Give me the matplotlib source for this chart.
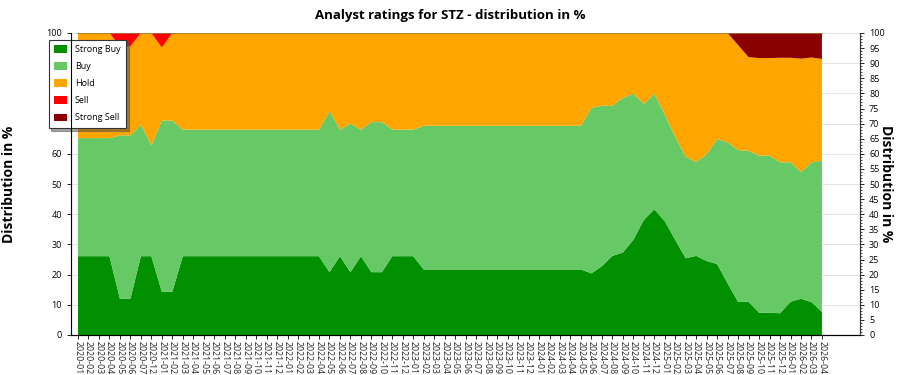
import matplotlib
matplotlib.use("Agg")
import matplotlib.pyplot as plt
from matplotlib.ticker import MultipleLocator
import numpy as np

plt.rcParams['font.family'] = ['Open Sans', 'DejaVu Sans']

months = (["2020-%02d" % m for m in [1, 2, 3, 4, 5, 6, 7, 12]] +
          ["%d-%02d" % (y, m) for y in (2021, 2022, 2023, 2024, 2025) for m in range(1, 13)] +
          ["2026-%02d" % m for m in range(1, 5)])

strong_buy = ([26.1] * 4 + [12.0] * 2 + [26.1] * 2 + [14.3] * 2 + [26.1] * 14 +
              [20.8, 26.1, 20.8, 26.1, 20.8, 20.8, 26.1, 26.1, 26.1] + [21.7] * 16 +
              [20.4, 22.8, 26.2, 27.3, 31.5, 38.1, 41.6, 37.7, 31.5, 25.4, 26.2, 24.5, 23.5,
               17.1, 11.0, 11.0, 7.4, 7.4, 7.2, 11.0, 12.0, 10.9, 7.7])
buy = ([39.1] * 4 + [54.1] * 2 + [43.5, 36.7] + [56.7] * 2 + [41.9] * 14 +
       [53.3, 41.9, 49.2, 41.9, 49.7, 49.7, 41.9, 41.9, 41.9] + [47.6] * 16 +
       [54.8, 53.1, 49.7, 51.2, 48.4, 38.4, 38.3, 35.3, 34.0, 33.6, 31.1, 35.4, 41.4,
        46.7, 50.2, 50.0, 52.0, 52.0, 50.0, 46.2, 41.9, 46.3, 50.0])
hold = ([34.8] * 4 + [29.5] * 2 + [30.4, 37.2] + [24.2, 29.0] + [32.0] * 14 +
        [25.9, 32.0, 30.0, 32.0, 29.5, 29.5, 32.0, 32.0, 32.0] + [30.7] * 16 +
        [24.8, 24.1, 24.1, 21.5, 20.1, 23.5, 20.1, 27.0, 34.5, 41.0, 42.7, 40.1, 35.1,
         36.2, 34.8, 31.0, 32.3, 32.3, 34.6, 34.6, 37.6, 34.7, 33.7])
sell = [0] * 4 + [4.4] * 2 + [0, 0] + [4.8, 0] + [0] * 62
strong_sell = [0] * 63 + [4.0, 8.0, 8.3, 8.3, 8.2, 8.2, 8.5, 8.1, 8.6]

labels = ["Strong Buy", "Buy", "Hold", "Sell", "Strong Sell"]
colors = ["#009000", "#66c966", "#ffa500", "#ff0000", "#8b0000"]

x = np.arange(len(months))
L, R = 71, 860
fig = plt.figure(figsize=(9, 3.75), dpi=100)
ax = fig.add_axes([L / 900, 1 - 335 / 375, (R - L) / 900, (335 - 33) / 375])

ax.stackplot(x, strong_buy, buy, hold, sell, strong_sell, colors=colors, labels=labels,
             linewidth=0)
top = np.array(strong_buy) + np.array(buy) + np.array(hold) + np.array(sell) + np.array(strong_sell)
ax.plot(x, top, color="#9b7c3a", lw=1.2, zorder=3)

px = 10.46
ax.set_xlim(-(78 - L) / px, 71 + (R - 822) / px)
ax.set_ylim(0, 100)
ax.set_xticks(x)
ax.set_xticklabels(months, rotation=-90, fontsize=6.3, color='#222222')
ax.tick_params(axis='x', length=3, pad=1, width=0.6)
ax.yaxis.set_major_locator(MultipleLocator(10))
ax.tick_params(axis='y', labelsize=6.5, length=3, width=0.6)
ax.grid(axis='y', color='#e3e3e3', lw=0.8)
ax.set_axisbelow(True)
ax.spines['top'].set_visible(False)
ax.spines['left'].set_color('#888888')
ax.spines['right'].set_color('#888888')
ax.spines['bottom'].set_color('#333333')
ax.set_ylabel("Distribution in %", fontsize=10, fontweight='bold', labelpad=22)

ax2 = ax.twinx()
ax2.set_ylim(0, 100)
ax2.yaxis.set_major_locator(MultipleLocator(5))
ax2.yaxis.set_minor_locator(MultipleLocator(1))
ax2.tick_params(axis='y', which='major', labelsize=6.5, length=3, width=0.6)
ax2.tick_params(axis='y', which='minor', length=1.5, width=0.5)
ax2.spines['top'].set_visible(False)
ax2.spines['right'].set_color('#333333')
ax2.set_ylabel("Distribution in %", fontsize=10, fontweight='bold', rotation=270, labelpad=6)

fig.suptitle("Analyst ratings for STZ - distribution in %", fontsize=9.5, fontweight='bold', y=0.975)

handles, labs = ax.get_legend_handles_labels()
leg = ax.legend(handles, labs, loc='upper left', bbox_to_anchor=(44 / 900, 1 - 35 / 375),
                bbox_transform=fig.transFigure, fontsize=6.5, frameon=True, fancybox=False,
                shadow=True, edgecolor='#333333', borderpad=0.6, labelspacing=0.9,
                handlelength=1.5, handleheight=0.9)
leg.get_frame().set_linewidth(0.8)
leg.set_zorder(10)

fig.savefig("out.png", dpi=100)
